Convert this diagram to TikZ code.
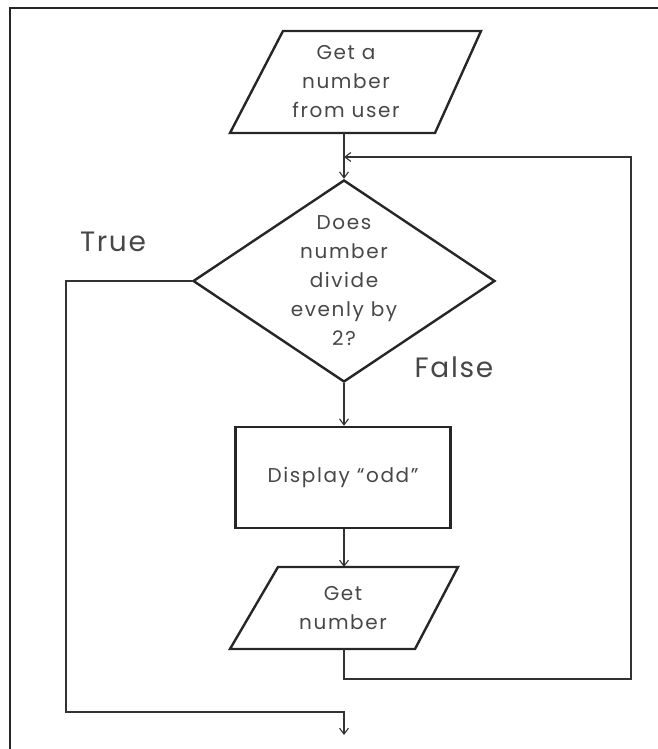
\documentclass[tikz,border=0pt]{standalone}
\usepackage{fontspec}
\setmainfont{Poppins}
\newfontfamily\widefont[LetterSpace=8]{Poppins}
\newfontfamily\labelfont[LetterSpace=6]{Poppins}
\usetikzlibrary{shapes.geometric,arrows.meta}
\begin{document}
\begin{tikzpicture}[x=1pt,y=-1pt,
  txt/.style={text=black!72,font=\widefont\fontsize{20}{29}\selectfont,align=center},
  shapeline/.style={draw=black!85,line width=2.4pt,line join=miter},
  decision/.style={shapeline,diamond,inner sep=0pt},
  process/.style={shapeline,txt,rectangle,inner sep=0pt},
  flow/.style={draw=black!80,line width=1.1pt},
  arr/.style={flow,-{Straight Barb[length=6pt,width=9pt]}},
  lbl/.style={text=black!72,font=\labelfont\fontsize{28}{30}\selectfont}]
\useasboundingbox (0,0) rectangle (658,749);
% frame
\draw[black!85,line width=2pt] (10,749) -- (10,8) -- (658,8);

% input parallelogram: get a number
\coordinate (in1bl) at (230,133);
\coordinate (in1tl) at (283,31);
\coordinate (in1tr) at (481,31);
\coordinate (in1br) at (435,133);
\coordinate (in1out) at (344,133);
\draw[shapeline] (in1bl) -- (in1tl) -- (in1tr) -- (in1br) -- cycle;
\node[txt] (in1) at (346,82) {Get a\\number\\from user};

% decision
\node[decision,minimum width=302pt,minimum height=202pt] (dec) at (344,281) {};
\node[txt] (dectext) at (dec.center) {Does\\number\\divide\\evenly by\\2?};

% process box
\node[process,minimum width=215pt,minimum height=101pt] (disp) at (343,477.5)
      {Display “odd”};

% input parallelogram: get number
\coordinate (in2bl) at (230,649);
\coordinate (in2tl) at (278,567);
\coordinate (in2tr) at (458,567);
\coordinate (in2br) at (415,649);
\coordinate (in2in) at (344,567);
\coordinate (in2out) at (344,649);
\draw[shapeline] (in2bl) -- (in2tl) -- (in2tr) -- (in2br) -- cycle;
\node[txt] (in2) at (343,608) {Get\\number};

\node[lbl] (tlbl) at (113,242) {True};
\node[lbl] (flbl) at (454,367) {False};

\coordinate (loopr) at (631,157);
\coordinate (endpt) at (344,735);

% connectors
\draw[arr] (in1out) -- (dec.north);
\draw[arr] (dec.south) -- (dec.south |- disp.north);
\draw[arr] (in2in |- disp.south) -- (in2in);
\draw[arr] (in2out) -- ++(0,30) -| (loopr) -- (dec.north |- loopr);
\draw[arr] (dec.west) -- (66,281) |- (344,712) -- (endpt);
\end{tikzpicture}
\end{document}
